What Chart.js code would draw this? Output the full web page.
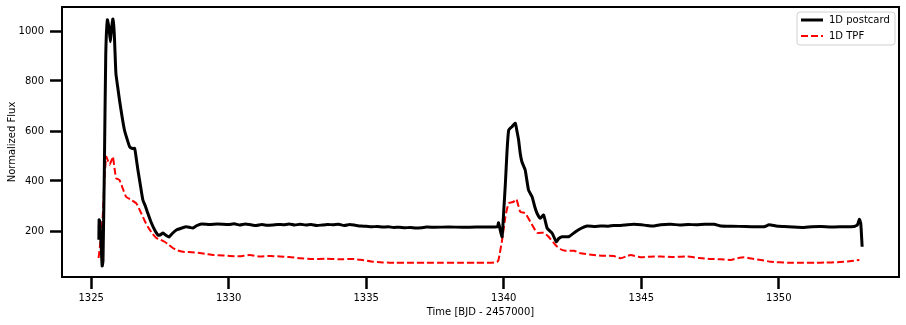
<!DOCTYPE html>
<html>
<head>
<meta charset="utf-8">
<script src="https://cdn.jsdelivr.net/npm/chart.js@4.4.1/dist/chart.umd.min.js"></script>
<style>
  html, body { margin: 0; padding: 0; background: #fff; }
  #wrap { width: 906px; height: 325px; }
</style>
</head>
<body>
<div id="wrap"><canvas id="myChart" width="906" height="325"></canvas></div>
<script>
// values
const postcardTime = [1325.28,1325.29,1325.32,1325.36,1325.40,1325.43,1325.48,1325.53,1325.59,1325.65,1325.70,1325.74,1325.79,1325.84,1325.90,1325.96,1326.03,1326.12,1326.21,1326.30,1326.40,1326.50,1326.58,1326.64,1326.70,1326.78,1326.88,1326.97,1327.06,1327.18,1327.31,1327.43,1327.52,1327.61,1327.72,1327.83,1327.95,1328.10,1328.30,1328.46,1328.60,1328.70,1328.85,1329.01,1329.30,1329.60,1330.00,1330.20,1330.40,1330.60,1330.80,1331.00,1331.20,1331.40,1331.60,1331.80,1332.00,1332.20,1332.40,1332.60,1332.80,1333.00,1333.20,1333.40,1333.60,1333.80,1334.00,1334.20,1334.40,1334.60,1334.80,1335.00,1335.20,1335.40,1335.60,1335.80,1336.00,1336.20,1336.40,1336.60,1336.80,1337.00,1337.20,1337.50,1338.00,1338.50,1339.00,1339.50,1339.77,1339.81,1339.87,1339.94,1340.00,1340.06,1340.12,1340.18,1340.30,1340.42,1340.48,1340.54,1340.60,1340.66,1340.78,1340.90,1341.03,1341.12,1341.21,1341.33,1341.45,1341.58,1341.76,1341.91,1342.00,1342.12,1342.36,1342.61,1342.80,1343.03,1343.30,1343.52,1343.80,1344.00,1344.25,1344.50,1344.73,1345.00,1345.20,1345.46,1345.70,1346.07,1346.40,1346.70,1347.00,1347.30,1347.65,1347.89,1348.30,1348.80,1349.20,1349.47,1349.65,1349.90,1350.20,1350.50,1350.92,1351.20,1351.53,1351.90,1352.30,1352.74,1352.86,1352.93,1352.98,1353.03];
const postcardFlux = [165,245,235,150,60,80,450,900,1045,1010,957,1010,1048,990,830,780,724,660,604,570,537,530,531,490,444,390,324,300,271,235,204,184,185,192,183,176,190,204,212,217,214,212,222,228,226,228,226,229,224,228,225,222,226,223,224,226,225,228,224,227,224,226,222,224,226,225,227,222,226,223,220,219,217,218,216,217,214,215,213,214,212,213,216,215,216,215,216,216,217,233,205,177,280,391,520,604,617,631,600,564,510,477,444,364,337,300,271,251,264,211,191,157,170,177,177,197,210,220,218,220,219,222,222,225,227,225,222,220,225,227,224,226,225,227,227,220,219,218,217,217,225,220,218,216,214,217,218,216,217,218,225,247,230,137];

const tpfTime = [1325.27,1325.33,1325.42,1325.49,1325.55,1325.62,1325.67,1325.73,1325.79,1325.85,1325.91,1326.03,1326.15,1326.27,1326.46,1326.64,1326.82,1326.95,1327.06,1327.22,1327.37,1327.52,1327.67,1327.82,1327.97,1328.15,1328.34,1328.65,1328.95,1329.20,1329.43,1329.80,1330.04,1330.40,1330.77,1331.13,1331.50,1331.86,1332.20,1332.60,1333.07,1333.50,1334.00,1334.50,1334.80,1335.25,1335.60,1336.10,1336.60,1337.20,1337.80,1338.40,1339.00,1339.50,1339.75,1339.81,1339.94,1340.06,1340.18,1340.36,1340.46,1340.60,1340.78,1340.97,1341.21,1341.45,1341.63,1341.88,1342.05,1342.24,1342.55,1342.79,1343.27,1343.60,1344.00,1344.25,1344.49,1344.61,1344.97,1345.30,1345.70,1346.20,1346.67,1347.10,1347.52,1347.90,1348.25,1348.50,1348.74,1349.00,1349.35,1349.71,1350.32,1350.80,1351.30,1351.70,1352.14,1352.50,1352.93];
const tpfFlux = [92,150,257,420,497,478,465,480,497,450,411,404,370,337,324,311,271,240,217,190,172,165,157,145,132,122,117,115,112,108,104,102,100,99,104,98,100,98,96,91,88,89,87,88,85,77,74,73,73,73,73,73,73,73,76,84,164,257,311,317,327,277,271,237,193,193,177,144,128,121,121,111,104,101,100,91,100,104,95,97,98,96,98,92,88,87,84,91,95,90,84,77,73,73,73,74,75,78,84];

const seriesLabels = ["1D postcard", "1D TPF"];
const xTickValues = [1325, 1330, 1335, 1340, 1345, 1350];
const yTickValues = [200, 400, 600, 800, 1000];

Chart.defaults.font.family = "'DejaVu Sans', sans-serif";
Chart.defaults.font.size = 10;
Chart.defaults.color = "#000";

// box round the plot plus the legend in the top right corner
const framePlugin = {
  id: "frame",
  afterDraw(chart) {
    const ctx = chart.ctx;
    const a = chart.chartArea;
    ctx.save();
    ctx.strokeStyle = "#000";
    ctx.lineWidth = 2;
    ctx.strokeRect(a.left, a.top, a.right - a.left, a.bottom - a.top);

    // legend
    const bx = 797, by = 12, bw = 98, bh = 33;
    ctx.beginPath();
    ctx.roundRect(bx, by, bw, bh, 3);
    ctx.fillStyle = "rgba(255,255,255,0.8)";
    ctx.fill();
    ctx.strokeStyle = "#d0d0d0";
    ctx.lineWidth = 1;
    ctx.stroke();

    chart.data.datasets.forEach((ds, i) => {
      const y = 20 + i * 16;
      ctx.beginPath();
      ctx.strokeStyle = ds.borderColor;
      ctx.lineWidth = ds.borderWidth;
      ctx.setLineDash(ds.borderDash || []);
      ctx.moveTo(801, y);
      ctx.lineTo(823, y);
      ctx.stroke();
      ctx.setLineDash([]);
      ctx.fillStyle = "#000";
      ctx.font = "10px 'DejaVu Sans'";
      ctx.textBaseline = "middle";
      ctx.fillText(ds.label, 829, y + 0.5);
    });
    ctx.restore();
  }
};

const ctx = document.getElementById("myChart").getContext("2d");
const myChart = new Chart(ctx, {
  type: "line",
  data: {
    datasets: [
      {
        label: seriesLabels[0],
        data: postcardTime.map((t, i) => ({ x: t, y: postcardFlux[i] })),
        borderColor: "#000",
        borderWidth: 3,
        borderJoinStyle: "round",
        pointRadius: 0,
        tension: 0.15
      },
      {
        label: seriesLabels[1],
        data: tpfTime.map((t, i) => ({ x: t, y: tpfFlux[i] })),
        borderColor: "#ff0000",
        borderWidth: 2,
        borderDash: [7, 3],
        borderJoinStyle: "round",
        pointRadius: 0,
        tension: 0.15
      }
    ]
  },
  options: {
    responsive: false,
    animation: false,
    events: [],
    layout: { padding: { top: 7, right: 7, left: 0, bottom: 0 } },
    plugins: { legend: { display: false }, tooltip: { enabled: false } },
    scales: {
      x: {
        type: "linear",
        min: 1323.94,
        max: 1354.37,
        afterBuildTicks: s => { s.ticks = xTickValues.map(v => ({ value: v })); },
        afterFit: s => { s.height = 48; s.paddingLeft = 0; s.paddingRight = 0; },
        ticks: { maxRotation: 0, autoSkip: false, padding: 3, callback: v => String(v) },
        grid: { drawOnChartArea: false, tickLength: 12, tickWidth: 2.5, tickColor: "#000" },
        border: { display: false },
        title: { display: true, text: "Time [BJD - 2457000]", padding: { top: 0, bottom: 7 } }
      },
      y: {
        min: 16,
        max: 1096,
        afterBuildTicks: s => { s.ticks = yTickValues.map(v => ({ value: v })); },
        afterFit: s => { s.width = 62; s.paddingTop = 0; s.paddingBottom = 0; },
        ticks: { padding: 6, callback: v => String(v) },
        grid: { drawOnChartArea: false, tickLength: 12, tickWidth: 2.5, tickColor: "#000" },
        border: { display: false },
        title: { display: true, text: "Normalized Flux", padding: { top: 6, bottom: 0 } }
      }
    }
  },
  plugins: [framePlugin]
});
</script>
</body>
</html>
